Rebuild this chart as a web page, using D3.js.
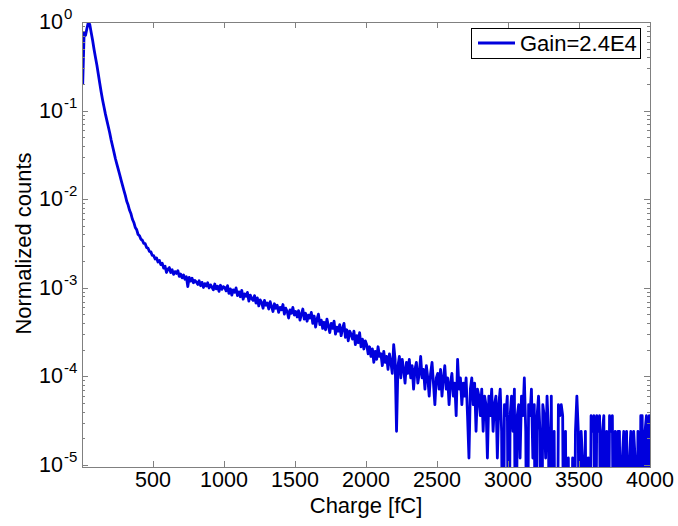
<!DOCTYPE html>
<html>
<head>
  <meta charset="utf-8">
  <script src="https://d3js.org/d3.v7.min.js"></script>
  <style>
    body { margin: 0; background: #fff; }
    text { font-family: "Liberation Sans", Arial, sans-serif; fill: #000; }
  </style>
</head>
<body>
<script>
// bin width of the charge histogram [fC], bins start at 0
var binWidth = 10;

// raw counts per bin, 0 .. 4000 fC (normalized by the peak when drawn)
var counts = [
  16600, 63200, 59000, 70900, 83333, 77800, 63200, 51400, 40800, 33200,
  27000, 21400, 17000, 13500, 11000, 9130, 7600, 6470, 5510, 4690,
  3900, 3320, 2830, 2400, 2090, 1820, 1590, 1380, 1200, 1050,
  920, 790, 715, 625, 570, 495, 455, 400, 378, 333,
  322, 294, 287, 264, 262, 238, 233, 214, 212, 193,
  192, 176, 181, 163, 170, 152, 158, 139, 146, 124,
  135, 141, 124, 133, 118, 127, 121, 130, 112, 119,
  108, 116, 104, 111, 86, 109, 99, 107, 95, 101,
  97, 91, 100, 88, 96, 84, 93, 87, 95, 83,
  90, 85, 79, 92, 81, 87, 76, 89, 80, 86,
  84, 77, 88, 72, 81, 69, 79, 74, 83, 68,
  75, 66, 78, 62, 71, 67, 74, 59, 69, 63,
  60, 68, 56, 64, 52, 61, 57, 49, 60, 53,
  56, 48, 58, 51, 45, 55, 49, 53, 44, 50,
  47, 54, 42, 49, 45, 38, 47, 43, 50, 41,
  45, 39, 46, 36, 42, 48, 37, 43, 35, 41,
  38, 44, 33, 40, 30, 37, 42, 32, 36, 29,
  34, 28, 37, 31, 26, 33, 29, 35, 25, 30,
  27, 32, 24, 29, 33, 23, 28, 21, 27, 25,
  22, 27, 19, 24, 20, 26, 18, 22, 17, 21,
  19, 15, 18, 14, 17, 12, 16, 13, 18, 14,
  15, 11, 16, 12, 14, 10, 15, 12, 9, 19,
  13, 2, 11, 14, 8, 13, 10, 7, 12, 9,
  13, 8, 11, 6, 10, 12, 7, 9, 14, 8,
  10, 6, 11, 8, 5, 9, 12, 7, 4, 8,
  9, 6, 10, 5, 8, 11, 6, 8, 4, 7,
  9, 5, 7, 3, 13, 6, 8, 4, 7, 5,
  8, 3, 1, 6, 8, 4, 7, 2, 6, 5,
  3, 6, 2, 5, 4, 1, 5, 3, 6, 2,
  4, 5, 1, 4, 6, 2, 0, 4, 3, 5,
  0, 3, 5, 2, 6, 0, 3, 4, 1, 5,
  3, 8, 2, 0, 4, 3, 6, 1, 4, 0,
  3, 5, 2, 0, 4, 3, 1, 5, 2, 0,
  5, 0, 2, 0, 0, 4, 3, 4, 3, 0,
  2, 0, 1, 0, 0, 1, 0, 2, 5, 2,
  0, 2, 1, 0, 2, 0, 1, 0, 3, 2,
  3, 0, 3, 2, 3, 0, 2, 3, 0, 2,
  0, 3, 2, 3, 0, 2, 0, 2, 2, 0,
  1, 2, 0, 2, 0, 1, 2, 0, 2, 1,
  0, 2, 0, 3, 3, 0, 2, 3, 0, 3,
  2
];

var xTicks = [500, 1000, 1500, 2000, 2500, 3000, 3500, 4000];
var yExponents = [0, -1, -2, -3, -4, -5];
var legendLabel = "Gain=2.4E4";

function drawChart() {
  var W = 678, H = 526;
  var plotLeft = 82, plotRight = 650, plotTop = 22, plotBottom = 467;
  var lineColor = "#0000dd";
  var axisColor = "#808080";

  var svg = d3.select("body").append("svg")
      .attr("width", W)
      .attr("height", H);

  var x = d3.scaleLinear().domain([0, 4000]).range([plotLeft, plotRight]);
  var y = d3.scaleLog().domain([1e-5, 1]).range([465, plotTop]);

  var peak = d3.max(counts);
  var points = counts.map(function(c, i) {
    // bin centres; empty bins drop below the axis, as in the original plot
    return [i * binWidth + binWidth / 2, c > 0 ? c / peak : 1e-7];
  });

  svg.append("clipPath").attr("id", "plotclip")
    .append("rect")
      .attr("x", plotLeft).attr("y", plotTop)
      .attr("width", plotRight - plotLeft + 1).attr("height", plotBottom - plotTop);

  svg.append("path")
      .datum(points)
      .attr("clip-path", "url(#plotclip)")
      .attr("fill", "none")
      .attr("stroke", lineColor)
      .attr("stroke-width", 2.8)
      .attr("stroke-linejoin", "round")
      .attr("d", d3.line()
        .x(function(d) { return x(d[0]); })
        .y(function(d) { return y(d[1]); }));

  // frame
  svg.append("rect")
      .attr("x", plotLeft + 0.5).attr("y", plotTop + 0.5)
      .attr("width", plotRight - plotLeft).attr("height", plotBottom - plotTop)
      .attr("fill", "none")
      .attr("stroke", axisColor)
      .attr("stroke-width", 1);

  var ticks = svg.append("g")
      .attr("stroke", axisColor)
      .attr("stroke-width", 1);

  // x ticks, bottom and top
  xTicks.forEach(function(t) {
    if (t >= 4000) return;
    var px = Math.round(x(t)) + 0.5;
    ticks.append("line").attr("x1", px).attr("x2", px).attr("y1", plotBottom).attr("y2", plotBottom - 6);
    ticks.append("line").attr("x1", px).attr("x2", px).attr("y1", plotTop).attr("y2", plotTop + 6);
  });

  // y ticks, major and minor, left and right
  yExponents.forEach(function(e) {
    var py = Math.round(y(Math.pow(10, e))) + 0.5;
    ticks.append("line").attr("x1", plotLeft).attr("x2", plotLeft + 6).attr("y1", py).attr("y2", py);
    ticks.append("line").attr("x1", plotRight).attr("x2", plotRight - 6).attr("y1", py).attr("y2", py);
    if (e === 0) return;
    for (var k = 2; k <= 9; k++) {
      var my = Math.round(y(k * Math.pow(10, e))) + 0.5;
      ticks.append("line").attr("x1", plotLeft).attr("x2", plotLeft + 3).attr("y1", my).attr("y2", my);
      ticks.append("line").attr("x1", plotRight).attr("x2", plotRight - 3).attr("y1", my).attr("y2", my);
    }
  });

  // x tick labels
  svg.append("g").selectAll("text")
    .data(xTicks)
    .enter().append("text")
      .attr("x", function(d) { return x(d); })
      .attr("y", 487)
      .attr("text-anchor", "middle")
      .style("font-size", "21.5px")
      .text(function(d) { return d; });

  // y tick labels 10^e
  var yl = svg.append("g").selectAll("g")
    .data(yExponents)
    .enter().append("g")
      .attr("transform", function(d) { return "translate(0," + y(Math.pow(10, d)) + ")"; });

  yl.append("text")
      .attr("x", 63)
      .attr("y", 7)
      .attr("text-anchor", "end")
      .style("font-size", "21.5px")
      .text("10");

  yl.append("text")
      .attr("x", 64)
      .attr("y", -3)
      .style("font-size", "15px")
      .text(function(d) { return d === 0 ? "0" : "-" + Math.abs(d); });

  // axis titles
  svg.append("text")
      .attr("x", (plotLeft + plotRight) / 2)
      .attr("y", 513)
      .attr("text-anchor", "middle")
      .style("font-size", "22px")
      .text("Charge [fC]");

  svg.append("text")
      .attr("transform", "translate(31," + (plotTop + 465) / 2 + ") rotate(-90)")
      .attr("text-anchor", "middle")
      .style("font-size", "22px")
      .text("Normalized counts");

  // legend
  var legend = svg.append("g").attr("class", "legend");
  legend.append("rect")
      .attr("x", 471.5).attr("y", 28.5)
      .attr("width", 169).attr("height", 30)
      .attr("fill", "#fff")
      .attr("stroke", "#000");
  legend.append("line")
      .attr("x1", 478).attr("x2", 515)
      .attr("y1", 43).attr("y2", 43)
      .attr("stroke", lineColor)
      .attr("stroke-width", 2.8);
  legend.append("text")
      .attr("x", 520)
      .attr("y", 51)
      .style("font-size", "22px")
      .text(legendLabel);
}

drawChart();
</script>
</body>
</html>
